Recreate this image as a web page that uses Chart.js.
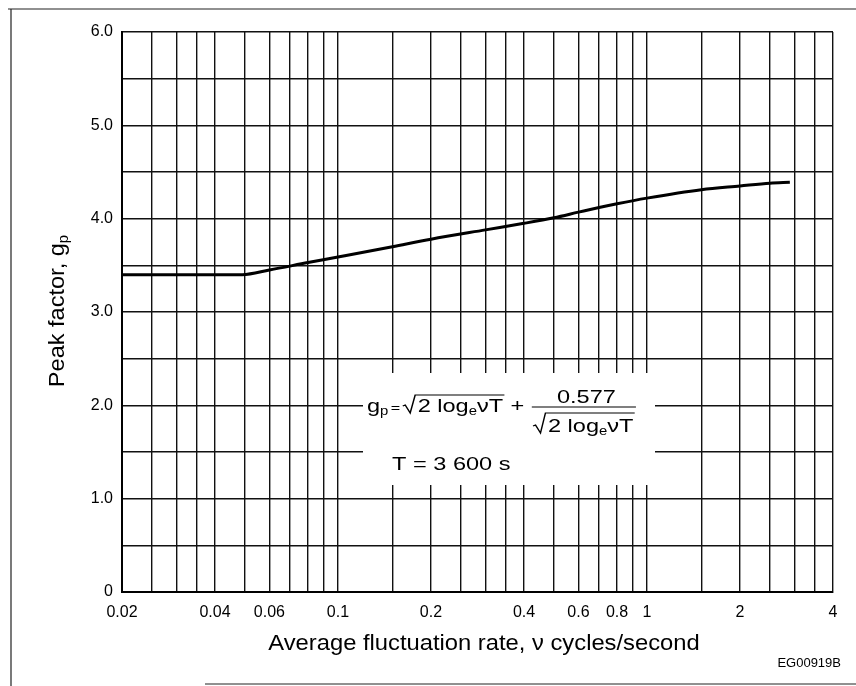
<!DOCTYPE html>
<html>
<head>
<meta charset="utf-8">
<title>Peak factor</title>
<script src="https://cdn.jsdelivr.net/npm/chart.js@4"></script>
<style>
  html, body { margin: 0; padding: 0; background: #fff; }
  #wrap { width: 856px; height: 686px; }
</style>
</head>
<body>
<div id="wrap"><canvas id="chart" width="856" height="686"></canvas></div>
<script>
// fluctuation rate (cycles/second) and the peak factor
const rateValues = [0.02, 0.049, 0.06, 0.08, 0.1, 0.15, 0.2, 0.3, 0.4, 0.5, 0.6, 0.7, 0.8, 1, 1.5, 2, 2.5, 2.9];
const peakValues = [3.40, 3.40, 3.45, 3.53, 3.59, 3.70, 3.78, 3.88, 3.95, 4.01, 4.07, 4.12, 4.16, 4.22, 4.31, 4.35, 4.38, 4.39];

// vertical grid lines of the log paper, and the ones that carry a label
const xGridValues = [0.02, 0.025, 0.03, 0.035, 0.04, 0.05, 0.06, 0.07, 0.08, 0.09, 0.1, 0.15,
                     0.2, 0.25, 0.3, 0.35, 0.4, 0.5, 0.6, 0.7, 0.8, 0.9, 1, 1.5, 2, 2.5, 3, 3.5, 4];
const xTickLabels = [0.02, 0.04, 0.06, 0.1, 0.2, 0.4, 0.6, 0.8, 1, 2, 4];

const FONT = '"Liberation Sans", Arial, Helvetica, sans-serif';
Chart.defaults.font.family = FONT;
Chart.defaults.color = '#000';

// draws a run of text pieces left to right, returns the x where it stopped
function drawRun(ctx, x, y, parts) {
    parts.forEach(p => {
        ctx.font = p.size + 'px ' + FONT;
        ctx.fillText(p.text, x, y + (p.dy || 0));
        x += ctx.measureText(p.text).width + (p.gap || 0);
    });
    return x;
}

function runWidth(ctx, parts) {
    let w = 0;
    parts.forEach(p => {
        ctx.font = p.size + 'px ' + FONT;
        w += ctx.measureText(p.text).width + (p.gap || 0);
    });
    return w;
}

// radical sign with its bar over the given width
function drawRadical(ctx, x, y, w, h) {
    ctx.beginPath();
    ctx.moveTo(x, y - 6);
    ctx.lineTo(x + 2, y - 7);
    ctx.lineTo(x + 6, y + 1);
    ctx.lineTo(x + 10, y - h);
    ctx.lineTo(x + 13 + w, y - h);
    ctx.stroke();
    return x + 12;
}

const rootParts = [
    { text: '2 log', size: 19 },
    { text: 'e', size: 12, dy: 3 },
    { text: 'νT', size: 19 }
];

const extras = {
    id: 'extras',
    beforeDatasetsDraw(chart) {
        const ctx = chart.ctx;
        ctx.save();
        // blank panel behind the formula
        ctx.fillStyle = '#fff';
        ctx.fillRect(363, 373, 292, 112);

        ctx.fillStyle = '#000';
        ctx.strokeStyle = '#000';
        ctx.lineWidth = 1.2;
        ctx.textBaseline = 'alphabetic';
        ctx.textAlign = 'left';

        // g_p = sqrt(2 ln vT) + 0.577 / sqrt(2 ln vT), set a little wide
        ctx.save();
        ctx.translate(367, 0);
        ctx.scale(1.24, 1);
        let x = drawRun(ctx, 0, 412, [
            { text: 'g', size: 19 },
            { text: 'p', size: 12, dy: 3, gap: 2 },
            { text: '=', size: 13, gap: 2 }
        ]);
        const rw = runWidth(ctx, rootParts);
        x = drawRadical(ctx, x, 412, rw, 17);
        x = drawRun(ctx, x, 412, rootParts);
        x = drawRun(ctx, x + 6, 412, [{ text: '+', size: 19 }]);

        const fx = x + 7;
        const fw = rw + 13;
        ctx.font = '19px ' + FONT;
        ctx.textAlign = 'center';
        ctx.fillText('0.577', fx + fw / 2 + 2, 403);
        ctx.textAlign = 'left';
        ctx.beginPath();
        ctx.moveTo(fx - 1, 407);
        ctx.lineTo(fx + fw + 1, 407);
        ctx.stroke();
        const dx = drawRadical(ctx, fx, 432, rw, 19);
        drawRun(ctx, dx, 432, rootParts);
        ctx.restore();

        ctx.save();
        ctx.translate(392, 0);
        ctx.scale(1.24, 1);
        drawRun(ctx, 0, 470, [{ text: 'T = 3 600 s', size: 19 }]);
        ctx.restore();
        ctx.restore();
    },
    afterDraw(chart) {
        const ctx = chart.ctx;
        ctx.save();
        ctx.fillStyle = '#000';
        ctx.textBaseline = 'alphabetic';

        // x axis title
        ctx.save();
        ctx.translate(484, 650);
        ctx.scale(1.08, 1);
        ctx.font = '22px ' + FONT;
        ctx.textAlign = 'center';
        ctx.fillText('Average fluctuation rate, ν cycles/second', 0, 0);
        ctx.restore();

        // y axis title with subscript
        ctx.save();
        ctx.translate(64, 311);
        ctx.rotate(-Math.PI / 2);
        ctx.scale(1.07, 1);
        const yParts = [
            { text: 'Peak factor, g', size: 22 },
            { text: 'p', size: 14, dy: 4 }
        ];
        ctx.textAlign = 'left';
        drawRun(ctx, -runWidth(ctx, yParts) / 2, 0, yParts);
        ctx.restore();

        // drawing number
        ctx.font = '13px ' + FONT;
        ctx.textAlign = 'right';
        ctx.fillText('EG00919B', 841, 667);

        // sheet frame
        ctx.strokeStyle = '#222';
        ctx.lineWidth = 1.2;
        ctx.beginPath();
        ctx.moveTo(8, 9);
        ctx.lineTo(856, 9);
        ctx.moveTo(11, 9);
        ctx.lineTo(11, 686);
        ctx.moveTo(205, 684);
        ctx.lineTo(856, 684);
        ctx.stroke();
        ctx.restore();
    }
};

const ctx = document.getElementById('chart').getContext('2d');
const myChart = new Chart(ctx, {
    type: 'line',
    data: {
        datasets: [{
            data: rateValues.map((v, i) => ({ x: v, y: peakValues[i] })),
            borderColor: '#000',
            borderWidth: 3,
            pointRadius: 0,
            cubicInterpolationMode: 'monotone',
            fill: false
        }]
    },
    options: {
        responsive: false,
        animation: false,
        layout: { padding: { left: 0, top: 32, right: 23, bottom: 0 } },
        plugins: {
            legend: { display: false },
            tooltip: { enabled: false }
        },
        scales: {
            x: {
                type: 'logarithmic',
                min: 0.02,
                max: 4,
                afterBuildTicks(scale) {
                    scale.ticks = xGridValues.map(v => ({ value: v }));
                },
                afterFit(scale) {
                    scale.height = 94;
                },
                grid: { color: '#111', lineWidth: 1.4, drawTicks: false },
                border: { color: '#000', width: 2 },
                ticks: {
                    autoSkip: false,
                    maxRotation: 0,
                    padding: 11,
                    font: { size: 16 },
                    callback: value => xTickLabels.includes(value) ? String(value) : ''
                }
            },
            y: {
                min: 0,
                max: 6,
                afterFit(scale) {
                    scale.width = 122;
                },
                grid: { color: '#111', lineWidth: 1.4, drawTicks: false },
                border: { color: '#000', width: 2 },
                ticks: {
                    stepSize: 0.5,
                    padding: 9,
                    font: { size: 16 },
                    callback: value => {
                        if (value % 1 !== 0) return '';
                        return value === 0 ? '0' : value.toFixed(1);
                    }
                }
            }
        }
    },
    plugins: [extras]
});
</script>
</body>
</html>
